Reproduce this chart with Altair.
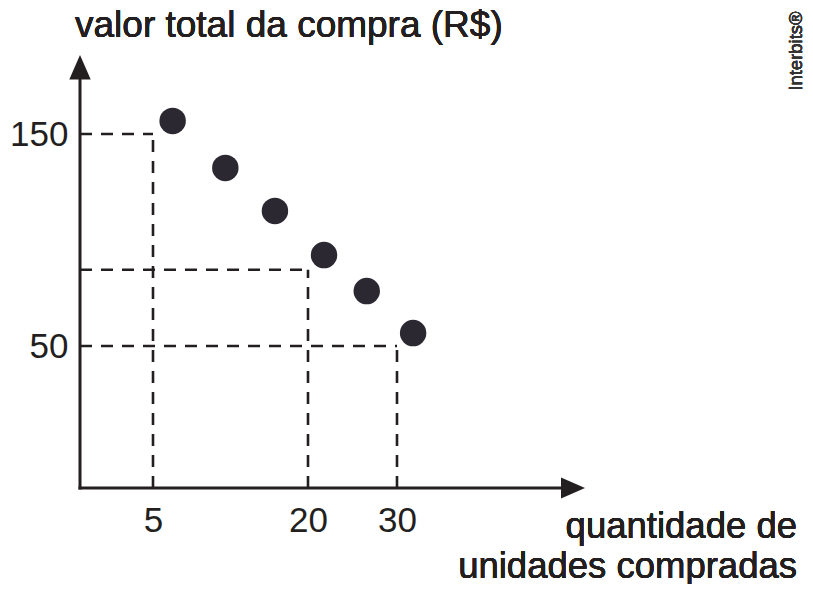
import altair as alt
import pandas as pd

# ---- data ----
x_vals = [6.9, 12.0, 16.8, 21.8, 26.6, 31.8]
y_vals = [156.1, 134.0, 113.7, 92.9, 75.9, 56.1]
guide_x = [5, 20, 30]
guide_y = [150, 86, 50]
x_ticks = [5, 20, 30]
y_ticks = [150, 50]
x_domain = [0, 5, 20, 30, 51]
y_domain = [0, 50, 150, 187]

title_y = "valor total da compra (R$)"
title_x1 = "quantidade de"
title_x2 = "unidades compradas"
credit = "Interbits®"

FONT = "Liberation Sans"
INK = "#231f20"
DOT = "#2b2831"
W, H = 505, 433

xscale = alt.Scale(domain=x_domain, range=[0, 73, 228, 317, W], nice=False, zero=False)
yscale = alt.Scale(domain=y_domain, range=[H, 291, 79, 0], nice=False, zero=False)

xaxis = alt.Axis(values=x_ticks, domain=False, ticks=False, tickSize=0, grid=False,
                 labelFont=FONT, labelFontSize=35, labelColor=INK, labelPadding=15,
                 labelAngle=0, title=None, labelFlush=False, labelOverlap=False)
yaxis = alt.Axis(values=y_ticks, domain=False, ticks=False, tickSize=0, grid=False,
                 labelFont=FONT, labelFontSize=35, labelColor=INK, labelPadding=12,
                 title=None, labelFlush=False, labelOverlap=False)


def X(f):
    return alt.X(f, type="quantitative", scale=xscale, axis=xaxis)


def Y(f):
    return alt.Y(f, type="quantitative", scale=yscale, axis=yaxis)


pts = pd.DataFrame({"x": x_vals, "y": y_vals})

rows = []
for gx, gy in zip(guide_x, guide_y):
    rows.append({"x": x_domain[0], "x2": gx, "y": gy, "y2": gy})
    rows.append({"x": gx, "x2": gx, "y": y_domain[0], "y2": gy})
guides = pd.DataFrame(rows)

axes_df = pd.DataFrame([
    {"x": 0, "x2": 49, "y": 0, "y2": 0},
    {"x": 0, "x2": 0, "y": 0, "y2": 178},
])

arrow_r = pd.DataFrame({"x": [x_domain[-1]], "y": [0]})
arrow_u = pd.DataFrame({"x": [0], "y": [y_domain[-1]]})

guide_layer = alt.Chart(guides).mark_rule(
    color=INK, strokeWidth=2.6, strokeDash=[12, 9]
).encode(x=X("x"), x2="x2", y=Y("y"), y2="y2")

axis_layer = alt.Chart(axes_df).mark_rule(
    color=INK, strokeWidth=3, strokeCap="square"
).encode(x=X("x"), x2="x2", y=Y("y"), y2="y2")

arrow_right = alt.Chart(arrow_r).mark_point(
    shape="M 0 0 L -2 -0.875 L -2 0.875 Z", filled=True, color=INK, opacity=1,
    size=576, strokeWidth=0
).encode(x=X("x"), y=Y("y"))

arrow_up = alt.Chart(arrow_u).mark_point(
    shape="M 0 0 L -0.875 2 L 0.875 2 Z", filled=True, color=INK, opacity=1,
    size=600, strokeWidth=0
).encode(x=X("x"), y=Y("y"))

points = alt.Chart(pts).mark_circle(
    size=700, color=DOT, opacity=1
).encode(x=X("x"), y=Y("y"))

t_y = alt.Chart(pts).mark_text(
    text=title_y, font=FONT, fontSize=37, color=INK, align="left", baseline="alphabetic"
).encode(x=alt.value(-5), y=alt.value(-18))

t_x1 = alt.Chart(pts).mark_text(
    text=title_x1, font=FONT, fontSize=36.5, color=INK, align="right", baseline="alphabetic"
).encode(x=alt.value(717), y=alt.value(483))

t_x2 = alt.Chart(pts).mark_text(
    text=title_x2, font=FONT, fontSize=36.5, color=INK, align="right", baseline="alphabetic"
).encode(x=alt.value(717), y=alt.value(523))

t_credit = alt.Chart(pts).mark_text(
    text=credit, font=FONT, fontSize=18.5, color="#333333", align="center",
    baseline="middle", angle=270
).encode(x=alt.value(716), y=alt.value(-4))

chart = alt.layer(
    guide_layer, axis_layer, arrow_right, arrow_up, points, t_y, t_x1, t_x2, t_credit
).properties(
    width=W, height=H,
    autosize=alt.AutoSizeParams(type="none"),
    padding={"left": 72, "top": 47, "right": 220, "bottom": 96},
    background="white",
).configure_view(strokeWidth=0)

chart.save("out.html", embed_options={"renderer": "svg", "actions": False})
